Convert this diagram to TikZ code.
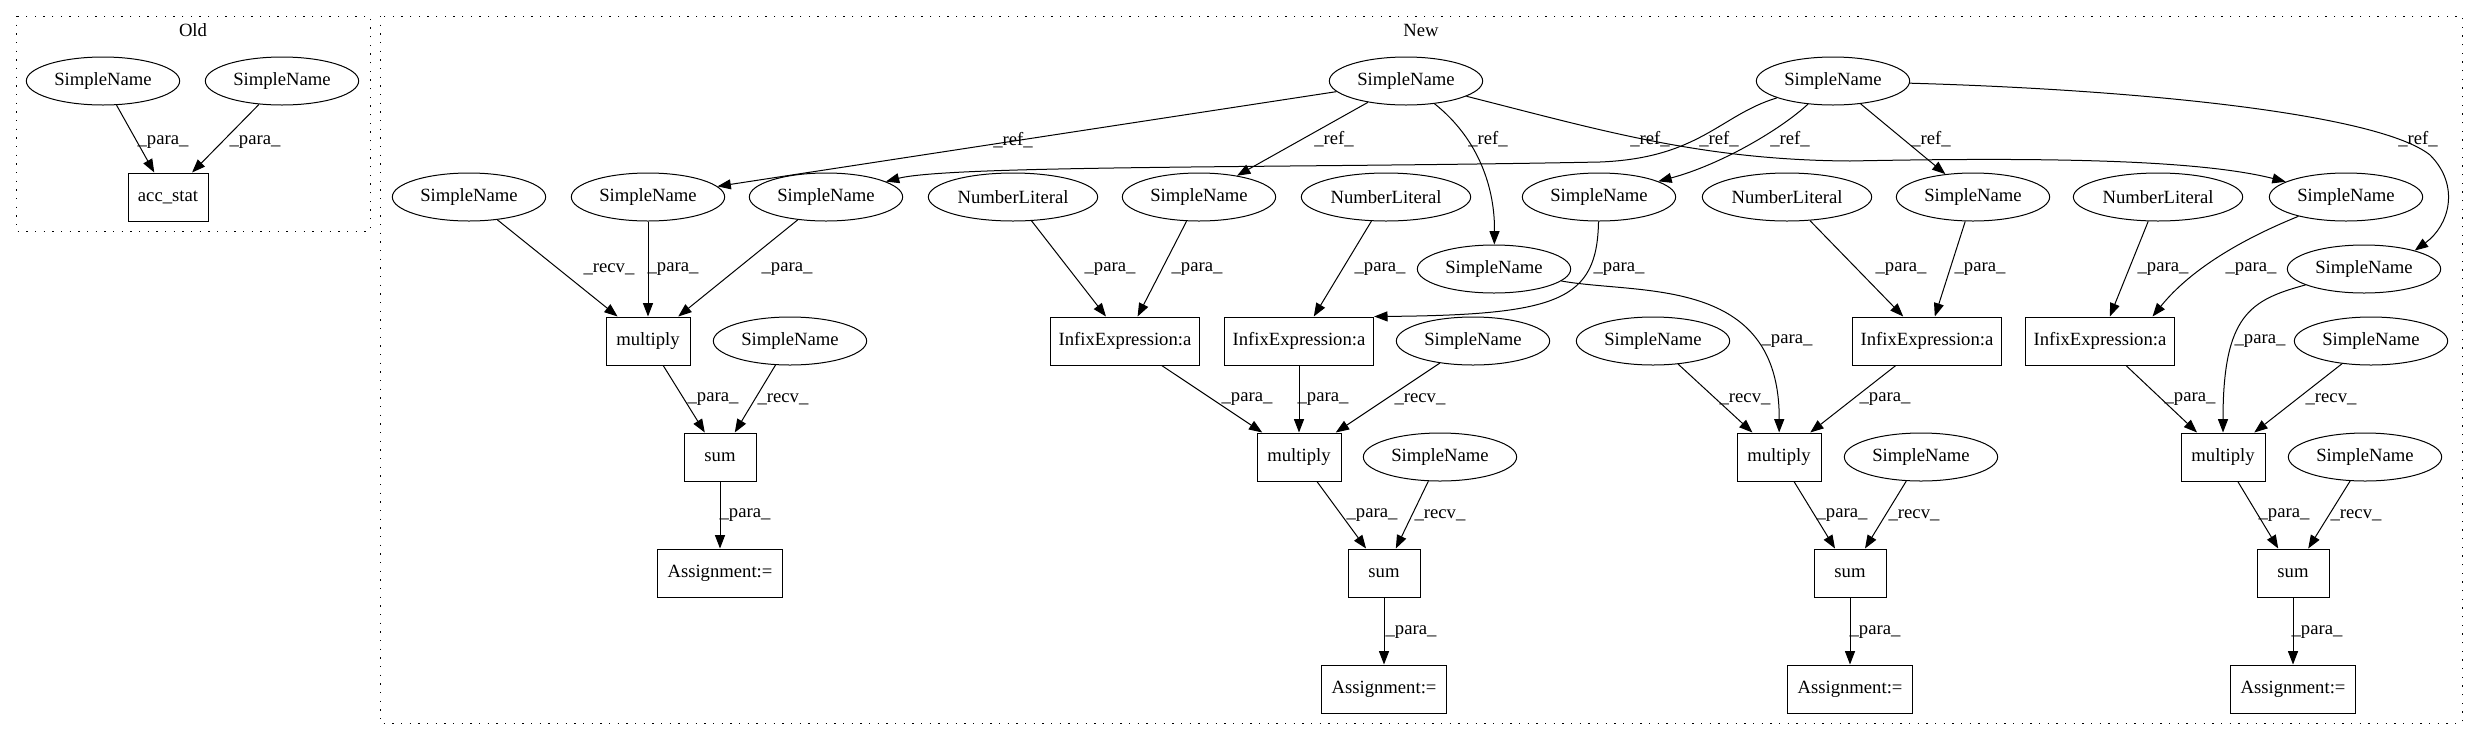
\documentclass[tikz,border=0pt]{standalone}
\usepackage{fontspec}
\setmainfont{Liberation Serif}
\usetikzlibrary{shapes.geometric,arrows.meta}

\begin{document}
\begin{tikzpicture}[x=0.75pt, y=-0.75pt, line width=0.75pt,
    font=\fontsize{14}{16}\selectfont,
    sname/.style={ellipse, draw, minimum width=115pt, minimum height=36pt, inner sep=0pt},
    numlit/.style={sname, minimum width=127pt},
    opbox/.style={rectangle, draw, minimum height=36pt, inner sep=0pt},
    lbl/.style={inner sep=0pt},
    arr/.style={-{Triangle[length=10pt,width=7.5pt]}},
    cluster/.style={dash pattern=on 1pt off 5.5pt}]
    \useasboundingbox (0,0) rectangle (2477,740);

    % Old cluster
    \draw[cluster] (16,16) rectangle (370,231);
    \node (oldtitle) at (193,30) {Old};
    \node[sname] (oa) at (103,81) {SimpleName};
    \node[sname] (ob) at (282,81) {SimpleName};
    \node[opbox, minimum width=60pt] (acc) at (168,197) {acc\_stat};
    \draw[arr] (oa) -- (acc) node[lbl] at (163,142) {\_para\_};
    \draw[arr] (ob) -- (acc) node[lbl] at (255,142) {\_para\_};

    % New cluster
    \draw[cluster] (380,16) rectangle (2462,723);
    \node (newtitle) at (1421,30) {New};

    % Referenced names
    \node[sname] (A) at (1406,81) {SimpleName};
    \node[sname] (B) at (1833,81) {SimpleName};

    % Operand row
    \foreach \n/\x in {s1/469, s2/648, s3/826, s4/1199, s6/1599, s7/1973, s8/2346}
        \node[sname] (\n) at (\x,197) {SimpleName};
    \foreach \n/\x in {n1/1013, n2/1386, n3/1787, n4/2158}
        \node[numlit] (\n) at (\x,197) {NumberLiteral};
    \node[sname] (s5) at (1494,269) {SimpleName};
    \node[sname] (s9) at (2364,269) {SimpleName};

    % Infix row
    \node[opbox, minimum width=63pt] (m1) at (648,341) {multiply};
    \foreach \n/\x in {i1/1125, i2/1299, i3/1927, i4/2100}
        \node[opbox, minimum width=112pt] (\n) at (\x,341) {InfixExpression:a};
    \foreach \n/\x in {r1/790, r2/1473, r4/1653, r6/2371}
        \node[sname] (\n) at (\x,341) {SimpleName};

    % Multiply row
    \node[opbox, minimum width=54pt] (sum1) at (720,457) {sum};
    \foreach \n/\x in {m2/1299, m3/1779, m4/2223}
        \node[opbox, minimum width=63pt] (\n) at (\x,457) {multiply};
    \foreach \n/\x in {r3/1440, r5/1921, r7/2365}
        \node[sname] (\n) at (\x,457) {SimpleName};

    % Sum and assignment rows
    \node[opbox, minimum width=94pt] (a1) at (720,573) {Assignment:=};
    \foreach \n/\x in {sum2/1384, sum3/1850, sum4/2293}
        \node[opbox, minimum width=54pt] (\n) at (\x,573) {sum};
    \foreach \n/\x in {a2/1384, a3/1850, a4/2293}
        \node[opbox, minimum width=94pt] (\n) at (\x,689) {Assignment:=};

    % Straight connections
    \foreach \a/\b/\lx/\ly/\kind in {
        A/s2/1013/140/ref, A/s4/1334/139/ref, B/s7/1931/139/ref,
        s1/m1/609/269/recv, s2/m1/673/269/para, s3/m1/787/269/para,
        n1/i1/1110/269/para, s4/i1/1197/269/para, n2/i2/1380/269/para,
        n3/i3/1901/269/para, s7/i3/1980/269/para, n4/i4/2163/269/para,
        m1/sum1/713/399/para, r1/sum1/783/399/recv,
        i1/m2/1247/399/para, i2/m2/1323/399/para, r2/m2/1420/399/recv,
        r4/m3/1745/399/recv, i3/m3/1885/399/para,
        i4/m4/2190/399/para, r6/m4/2331/399/recv,
        sum1/a1/745/515/para, m2/sum2/1372/515/para, r3/sum2/1440/515/recv,
        m3/sum3/1842/515/para, r5/sum3/1914/515/recv,
        m4/sum4/2284/515/para, r7/sum4/2356/515/recv,
        sum2/a2/1411/632/para, sum3/a3/1875/632/para, sum4/a4/2317/632/para}
        \draw[arr] (\a) -- (\b) node[lbl] at (\lx,\ly) {\_\kind\_};

    % Curved connections
    \draw[arr] (A) .. controls (1480,140) and (1495,190) .. (s5)
        node[lbl] at (1488,139) {\_ref\_};
    \draw[arr] (A) .. controls (1600,130) and (1700,160) .. (1850,161)
        .. controls (2050,157) and (2200,160) .. (s8)
        node[lbl] at (1650,139) {\_ref\_};
    \draw[arr] (B) .. controls (1720,115) and (1700,158) .. (1600,162)
        .. controls (1300,168) and (950,165) .. (s3)
        node[lbl] at (1719,139) {\_ref\_};
    \draw[arr] (B) .. controls (1780,130) and (1720,165) .. (s6)
        node[lbl] at (1790,139) {\_ref\_};
    \draw[arr] (B) .. controls (2150,90) and (2380,115) .. (2430,155)
        .. controls (2460,185) and (2450,225) .. (s9.20)
        node[lbl] at (2418,139) {\_ref\_};
    \draw[arr] (s6) .. controls (1597,300) and (1560,315) .. (i2.north east)
        node[lbl] at (1619,269) {\_para\_};
    \draw[arr] (s5) .. controls (1640,295) and (1780,275) .. (m3)
        node[lbl] at (1787,341) {\_para\_};
    \draw[arr] (s8) .. controls (2240,240) and (2190,270) .. (i4.25)
        node[lbl] at (2251,269) {\_para\_};
    \draw[arr] (s9) .. controls (2250,300) and (2223,315) .. (m4)
        node[lbl] at (2260,341) {\_para\_};
\end{tikzpicture}
\end{document}
